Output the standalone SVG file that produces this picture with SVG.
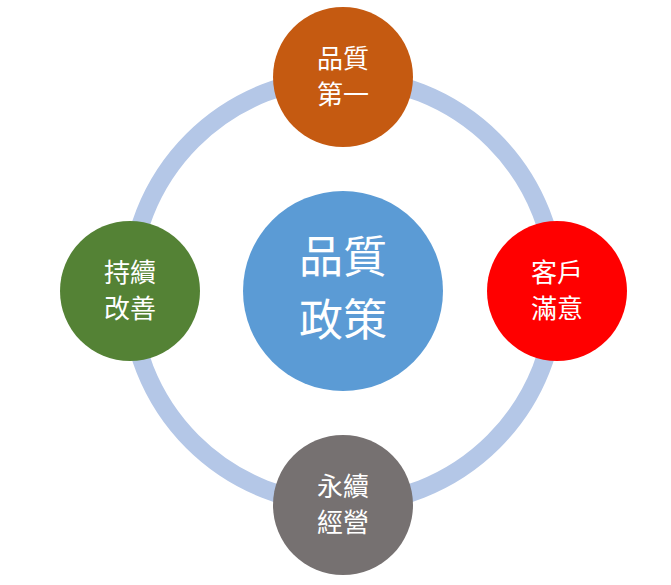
<svg xmlns="http://www.w3.org/2000/svg" width="671" height="585" viewBox="0 0 671 585">
<style>
text{font-family:"Noto Sans CJK TC","Noto Sans CJK SC",sans-serif;fill:#fff;text-anchor:middle}
.s{font-size:26px}
.b{font-size:44px}
</style>
<rect width="671" height="585" fill="#fff"/>
<g id="connectors"><circle cx="343" cy="291" r="213" fill="none" stroke="#B4C7E7" stroke-width="18"/></g>
<g id="center"><circle cx="343" cy="291" r="100" fill="#5B9BD5"/><text class="b" x="343" y="273">品質</text><text class="b" x="343" y="336">政策</text></g>
<g id="top"><circle cx="343" cy="77" r="70" fill="#C55A11"/><text class="s" x="343" y="68">品質</text><text class="s" x="343" y="104">第一</text></g>
<g id="right"><circle cx="557" cy="291" r="70" fill="#FF0000"/><text class="s" x="557" y="282">客戶</text><text class="s" x="557" y="318">滿意</text></g>
<g id="bottom"><circle cx="343" cy="505" r="70" fill="#767171"/><text class="s" x="343" y="496">永續</text><text class="s" x="343" y="532">經營</text></g>
<g id="left"><circle cx="130" cy="291" r="70" fill="#548235"/><text class="s" x="130" y="282">持續</text><text class="s" x="130" y="318">改善</text></g>
</svg>
